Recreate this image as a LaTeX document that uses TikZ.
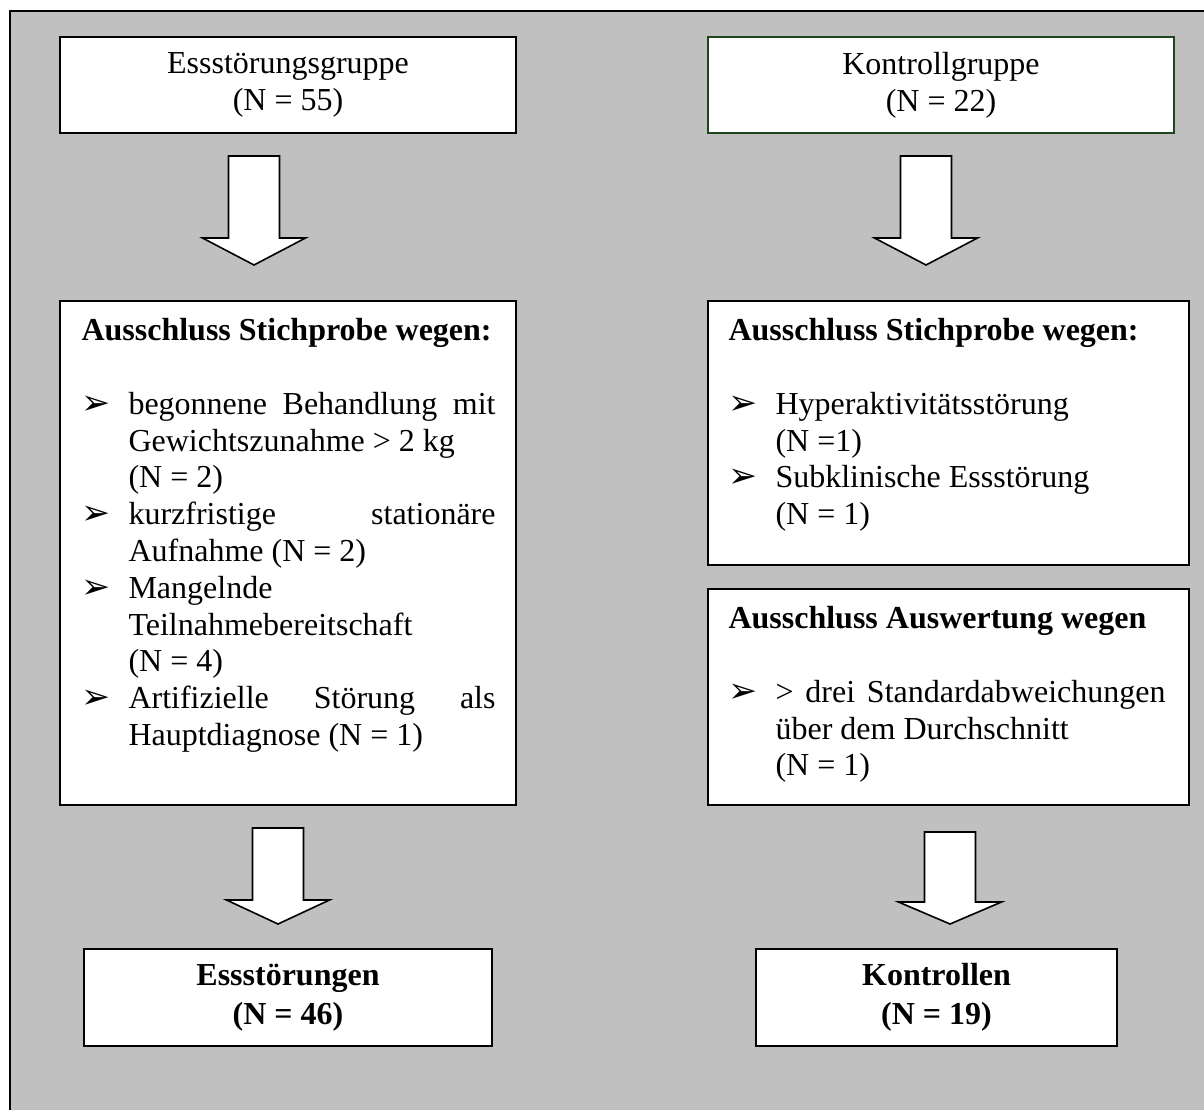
\documentclass[tikz,border=0pt]{standalone}
\usepackage{fontspec}
\setmainfont{Liberation Serif}
\newfontfamily\symfont{DejaVu Sans}
\usepackage{tikz}
\usetikzlibrary{positioning}
\definecolor{framegray}{HTML}{C0C0C0}
\definecolor{boxgreen}{HTML}{1E461E}
\newlength\px
\setlength\px{0.375pt}
\newcommand{\bul}{\makebox[47\px][l]{\hspace{0\px}{\symfont\fontsize{13}{12}\selectfont ➢}}}
\newcommand{\ind}{\makebox[47\px]{}}
% block arrow: centre x, top y, head y, tip y
\newcommand{\blockarrow}[4]{%
  \draw[fatarrow] (#1-25.5,#2) -- (#1+25.5,#2) -- (#1+25.5,#3) -- (#1+51.5,#3)
    -- (#1,#4) -- (#1-51.5,#3) -- (#1-25.5,#3) -- cycle;}
\tikzset{
  box/.style 2 args={draw, line width=0.75pt, fill=white, anchor=north west,
    inner sep=0pt, minimum width=#1*\px, minimum height=#2*\px, align=center},
  resbox/.style 2 args={box={#1}{#2}, font=\fontsize{12}{14.6}\selectfont\bfseries},
  listtext/.style={anchor=north west, inner sep=0pt, align=left},
  fatarrow/.style={draw, fill=white, line width=0.6pt, line join=miter}
}

\begin{document}
\begin{tikzpicture}[x=0.375pt, y=-0.375pt, font=\fontsize{12}{13.8}\selectfont]
    \useasboundingbox (0,0) rectangle (1204,1110);
    % grey background frame
    \fill[framegray] (10,11) rectangle (1204,1110);
    \draw[line width=0.75pt] (10,1110) -- (10,11) -- (1204,11);

    % groups
    \node[box={456}{96}] (egGroup) at (59,36) {Essstörungsgruppe\\(N = 55)};
    \node[box={466}{96}, draw=boxgreen] (kgGroup) at (707,36) {Kontrollgruppe\\(N = 22)};

    % exclusion boxes
    \node[box={456}{504}] (egExcl) at (59,300) {};
    \node[box={481}{264}] (kgExcl) at (707,300) {};
    \node[box={481}{216}] (kgEval) at (707,588) {};

    \node[listtext] (egExclTxt) at (81,318) {%
        \textbf{Ausschluss Stichprobe wegen:}\\[13.8pt]
        \bul\makebox[367\px][s]{begonnene Behandlung mit}\\
        \ind Gewichtszunahme > 2 kg\\
        \ind (N = 2)\\
        \bul\makebox[367\px][s]{kurzfristige stationäre}\\
        \ind Aufnahme (N = 2)\\
        \bul Mangelnde\\
        \ind Teilnahmebereitschaft\\
        \ind (N = 4)\\
        \bul\makebox[367\px][s]{Artifizielle Störung als}\\
        \ind Hauptdiagnose (N = 1)};
    \node[listtext] (kgExclTxt) at (728,318) {%
        \textbf{Ausschluss Stichprobe wegen:}\\[13.8pt]
        \bul Hyperaktivitätsstörung\\
        \ind (N =1)\\
        \bul Subklinische Essstörung\\
        \ind (N = 1)};
    \node[listtext] (kgEvalTxt) at (728,606) {%
        \textbf{Ausschluss Auswertung wegen}\\[13.8pt]
        \bul\makebox[390\px][s]{> drei Standardabweichungen}\\
        \ind über dem Durchschnitt\\
        \ind (N = 1)};

    % results
    \node[resbox={408}{97}] (egRes) at (83,948) {Essstörungen\\(N = 46)};
    \node[resbox={361}{97}] (kgRes) at (755,948) {Kontrollen\\(N = 19)};

    % arrows
    \blockarrow{254}{156}{238}{265}
    \blockarrow{926}{156}{238}{265}
    \blockarrow{278}{828}{900}{924}
    \blockarrow{950}{832}{902}{924}
\end{tikzpicture}
\end{document}
